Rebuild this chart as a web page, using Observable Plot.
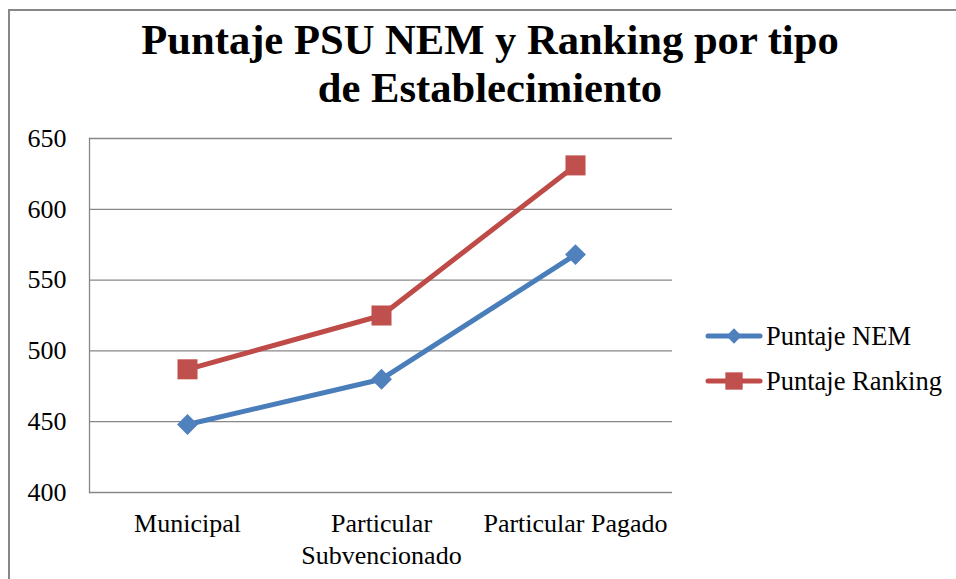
<!DOCTYPE html>
<html>
<head>
<meta charset="utf-8">
<script src="https://cdn.jsdelivr.net/npm/d3@7"></script>
<script src="https://cdn.jsdelivr.net/npm/@observablehq/plot@0.6"></script>
</head>
<body style="margin:0;padding:0;background:#fff;">
<div id="wrap" style="position:relative;width:956px;height:579px;overflow:hidden;background:#fff;font-family:'Liberation Serif';">
  <div style="position:absolute;left:8px;top:9px;width:1000px;height:700px;border-top:2px solid #878787;border-left:2px solid #878787;box-sizing:border-box;"></div>
  <div id="chart" style="position:absolute;left:0;top:0;"></div>
  <div id="title" style="position:absolute;left:90px;top:16px;width:800px;text-align:center;font-family:'Liberation Serif';font-weight:bold;font-size:42.6px;line-height:48px;color:#000;">Puntaje PSU NEM y Ranking por tipo<br>de Establecimiento</div>
  <svg id="legend" width="956" height="579" style="position:absolute;left:0;top:0;"></svg>
</div>
<script>
const categories = ["Municipal", "Particular Subvencionado", "Particular Pagado"];
const xTickLabels = ["Municipal", "Particular\nSubvencionado", "Particular Pagado"];
const seriesNames = ["Puntaje NEM", "Puntaje Ranking"];
const puntajeNEM = [448, 480, 568];
const puntajeRanking = [487, 525, 631];
const yTicks = [400, 450, 500, 550, 600, 650];
const seriesColors = ["#4A7EBB", "#BE4B48"];
const markerColors = ["#4F81BD", "#C0504D"];
const seriesSymbols = ["diamond2", "square"];

const data = [];
categories.forEach((c, i) => {
  data.push({cat: c, series: seriesNames[0], value: puntajeNEM[i]});
  data.push({cat: c, series: seriesNames[1], value: puntajeRanking[i]});
});

const FONT = "'Liberation Serif'";

const chart = Plot.plot({
  width: 956,
  height: 579,
  marginTop: 138,
  marginBottom: 87,
  marginLeft: 89,
  marginRight: 284,
  style: {fontFamily: FONT, fontSize: "26px", color: "#000", background: "transparent", overflow: "visible"},
  x: {type: "point", domain: categories, padding: 0.5, label: null},
  y: {domain: [400, 650], label: null},
  color: {domain: seriesNames, range: seriesColors},
  marks: [
    Plot.gridY(yTicks, {stroke: "#878787", strokeOpacity: 1, strokeWidth: 1.3}),
    Plot.frame({anchor: "left", stroke: "#878787", strokeWidth: 1.3}),
    Plot.axisY(yTicks, {tickSize: 0, tickPadding: 23, fontSize: 26, fontFamily: FONT, label: null, tickFormat: d => String(d)}),
    Plot.axisX({tickSize: 0, tickPadding: 17, fontSize: 26, fontFamily: FONT, label: null, lineHeight: 1.23,
      tickFormat: d => xTickLabels[categories.indexOf(d)]}),
    Plot.line(data, {x: "cat", y: "value", z: "series", stroke: "series", strokeWidth: 5, strokeLinejoin: "round", strokeLinecap: "round"}),
    Plot.dot(data.filter(d => d.series === seriesNames[0]), {x: "cat", y: "value", symbol: seriesSymbols[0], r: 9.4, fill: markerColors[0], stroke: "none"}),
    Plot.dot(data.filter(d => d.series === seriesNames[1]), {x: "cat", y: "value", symbol: seriesSymbols[1], r: 11.3, fill: markerColors[1], stroke: "none"})
  ]
});
document.getElementById("chart").appendChild(chart);

// Legend
const leg = d3.select("#legend");
seriesNames.forEach((name, i) => {
  const g = leg.append("g").attr("transform", `translate(0, ${336 + i * 45})`);
  g.append("line").attr("x1", 708).attr("x2", 760).attr("y1", 0).attr("y2", 0)
    .attr("stroke", seriesColors[i]).attr("stroke-width", 5).attr("stroke-linecap", "round");
  const sym = i === 0 ? d3.symbolDiamond2 : d3.symbolSquare;
  const size = i === 0 ? 150 : 300;
  g.append("path").attr("d", d3.symbol(sym, size)()).attr("transform", "translate(734,0)")
    .attr("fill", markerColors[i]);
  g.append("text").attr("x", 766).attr("y", 0).attr("dy", "0.35em")
    .style("font-family", FONT).attr("font-size", 26.5)
    .attr("fill", "#000").text(name);
});
</script>
</body>
</html>
